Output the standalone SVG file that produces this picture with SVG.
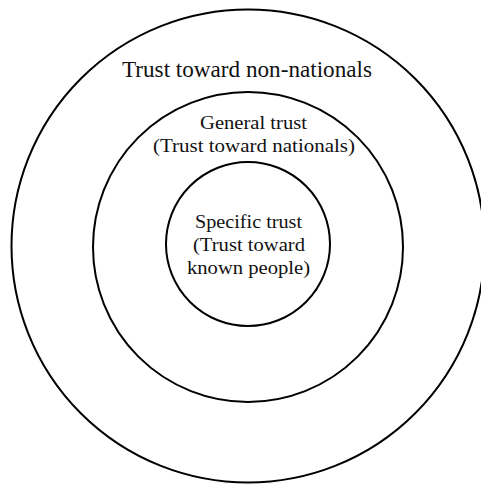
<svg xmlns="http://www.w3.org/2000/svg" width="481" height="485" viewBox="0 0 481 485">
<style>
.ring{fill:none;stroke:#000;stroke-width:2}
.t{font-family:"Liberation Serif","Times New Roman",serif;fill:#111;text-anchor:middle}
.big{font-size:23px}
.mid{font-size:19.5px}
</style>
<rect width="481" height="485" fill="#fff"/>
<g id="outer">
<circle class="ring" cx="248" cy="246" r="236.5"/>
<text class="t big" x="247" y="77" textLength="250" lengthAdjust="spacingAndGlyphs">Trust toward non-nationals</text>
</g>
<g id="general">
<circle class="ring" cx="248" cy="247" r="155"/>
<text class="t mid" x="253.5" y="129" textLength="107" lengthAdjust="spacingAndGlyphs">General trust</text>
<text class="t mid" x="254" y="152" textLength="202" lengthAdjust="spacingAndGlyphs">(Trust toward nationals)</text>
</g>
<g id="specific">
<circle class="ring" cx="248" cy="244" r="82"/>
<text class="t mid" x="248.5" y="228" textLength="107" lengthAdjust="spacingAndGlyphs">Specific trust</text>
<text class="t mid" x="249" y="251" textLength="112" lengthAdjust="spacingAndGlyphs">(Trust toward</text>
<text class="t mid" x="248.5" y="274" textLength="123" lengthAdjust="spacingAndGlyphs">known people)</text>
</g>
<g id="connectors"/>
</svg>
